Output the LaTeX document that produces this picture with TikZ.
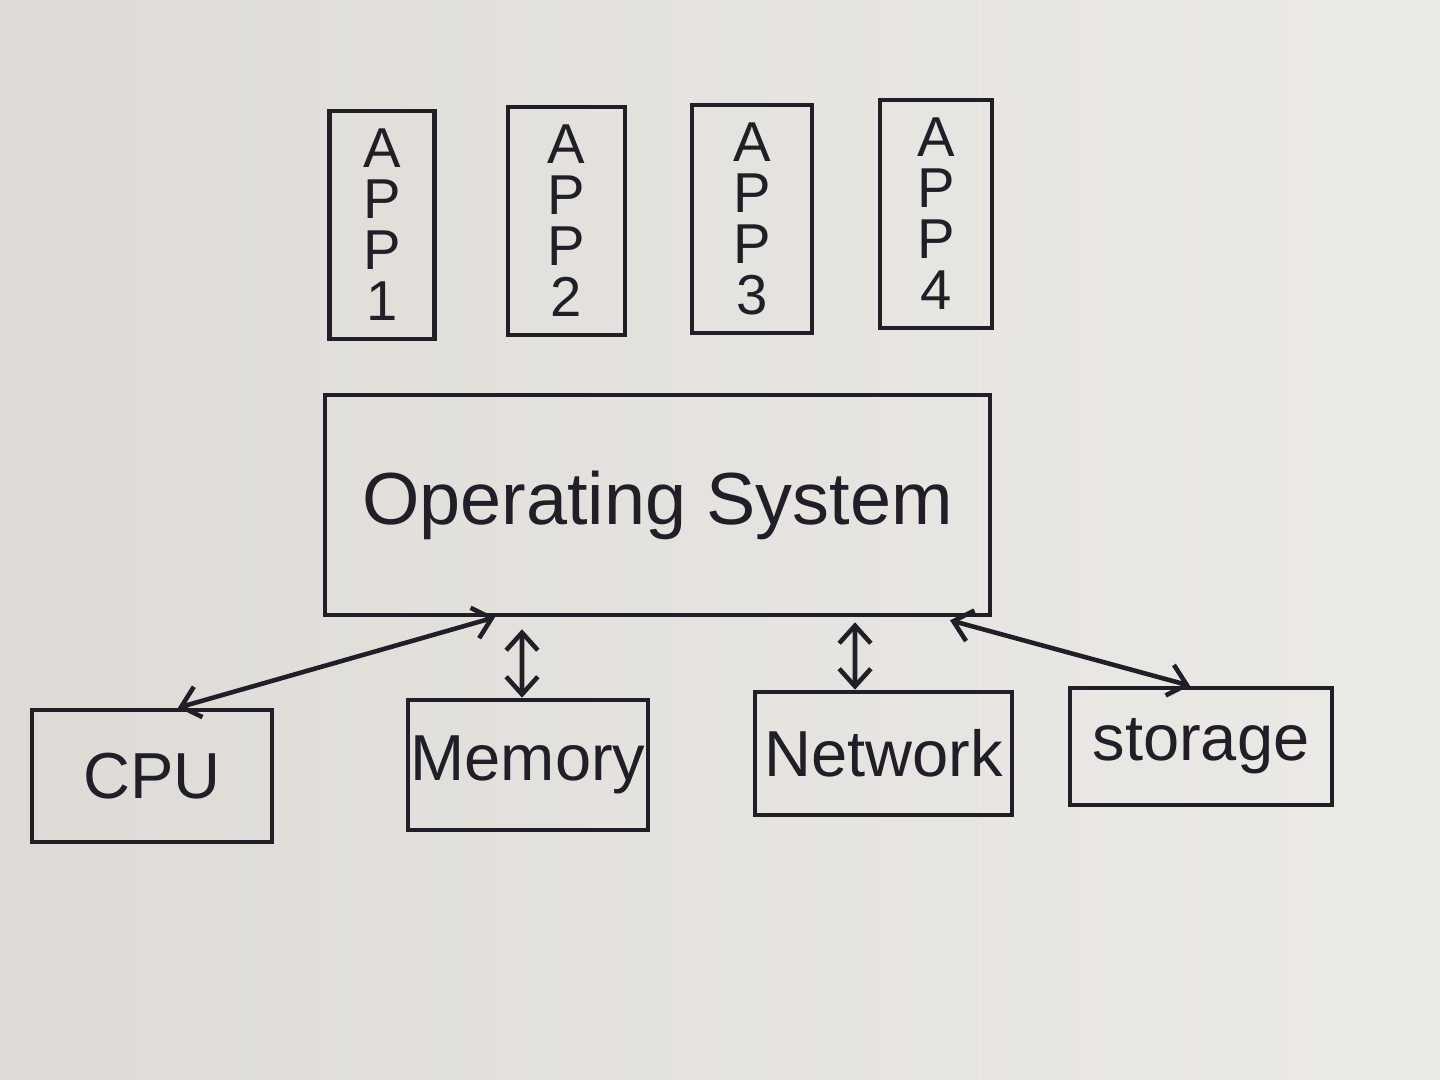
\documentclass[tikz,border=0pt]{standalone}
\usepackage{fontspec}
\setmainfont{Liberation Sans}
\usetikzlibrary{arrows.meta,calc}
\definecolor{paper}{RGB}{222,219,215}
\definecolor{paperlight}{RGB}{236,234,231}
\definecolor{ink}{RGB}{32,30,38}
\begin{document}
\begin{tikzpicture}[
  x=1cm,y=1cm,
  box/.style={draw=ink,line width=1.3pt,inner sep=0pt,text=ink},
  appbox/.style={box,minimum width=1.05cm,minimum height=2.28cm,align=center,font=\fontsize{16}{14.5}\selectfont},
  hwbox/.style={box,minimum width=2.45cm,minimum height=1.25cm,font=\fontsize{18.5}{22}\selectfont},
  link/.style={draw=ink,line width=1.3pt,{Straight Barb[length=5pt,width=9pt]}-{Straight Barb[length=5pt,width=9pt]}}
]
\shade[left color=paper,right color=paperlight] (0,0) rectangle (14.4,10.8);
\useasboundingbox (0,0) rectangle (14.4,10.8);
% applications
\node[appbox] (app1) at (3.82,8.55) {A\\P\\P\\1};
\node[appbox,minimum width=1.17cm] (app2) at (5.665,8.59) {A\\P\\P\\2};
\node[appbox,minimum width=1.2cm] (app3) at (7.52,8.61) {A\\P\\P\\3};
\node[appbox,minimum width=1.12cm] (app4) at (9.36,8.66) {A\\P\\P\\4};
% operating system
\node[box,minimum width=6.65cm,minimum height=2.2cm,font=\fontsize{21}{25}\selectfont] (os) at (6.575,5.75) {Operating System};
% hardware
\node[hwbox,minimum width=2.4cm,minimum height=1.32cm] (cpu) at (1.52,3.04) {CPU};
\node[hwbox,minimum width=2.4cm,minimum height=1.3cm] (mem) at (5.28,3.15) {Memory};
\node[hwbox,minimum width=2.57cm,minimum height=1.23cm] (net) at (8.835,3.265) {Network};
\node[hwbox,minimum width=2.62cm,minimum height=1.17cm] (sto) at (12.01,3.335) {storage};
% connectors
\draw[link] ([xshift=-1.625cm]os.south) -- ([xshift=0.26cm]cpu.north);
\draw[link] ([xshift=-1.355cm,yshift=-0.12cm]os.south) -- ([xshift=-0.06cm]mem.north);
\draw[link] ([xshift=1.975cm,yshift=-0.05cm]os.south) -- ([xshift=-0.285cm]net.north);
\draw[link] ([xshift=2.925cm,yshift=-0.03cm]os.south) -- ([xshift=-0.11cm]sto.north);
\end{tikzpicture}
\end{document}
